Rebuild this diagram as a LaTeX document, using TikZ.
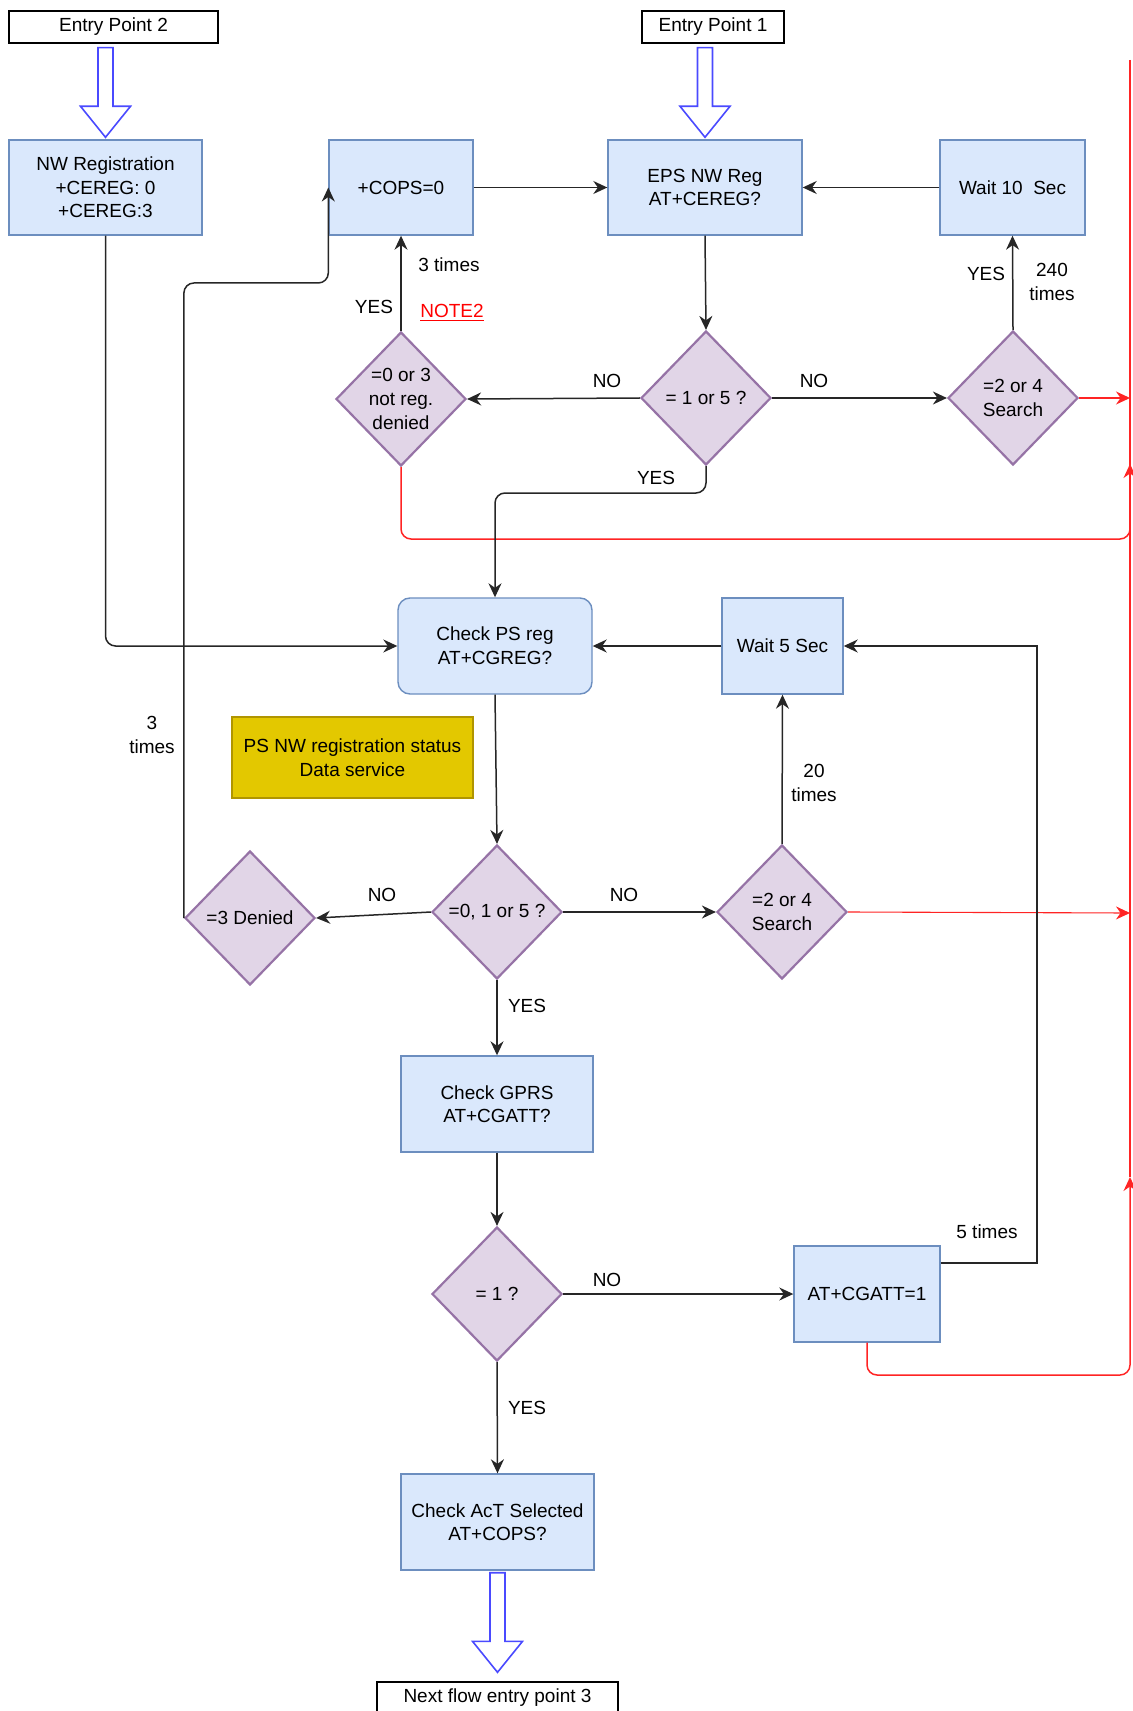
\documentclass[tikz,border=0pt]{standalone}
\usepackage{fontspec}
\setmainfont{Liberation Sans}
\usetikzlibrary{shapes.geometric,arrows.meta,calc}

\definecolor{boxfill}{HTML}{DAE8FC}
\definecolor{boxline}{HTML}{6C8EBF}
\definecolor{decfill}{HTML}{E1D5E7}
\definecolor{decline}{HTML}{9673A6}
\definecolor{notefill}{HTML}{E3C800}
\definecolor{noteline}{HTML}{B09500}
\definecolor{flowred}{HTML}{FF2424}
\definecolor{entryblue}{HTML}{4A4AFF}

% hollow block arrow from the bottom of #1 to the top of #2
% #3: gap below #1, #4: gap above #2 (pt)
\newcommand{\blockarrow}[4]{%
  \draw[hollow] let \p1=(#1.south), \p2=(#2.north) in
    (\x2-3.75pt,\y1-#3) -- (\x2-3.75pt,\y2+#4+15.5pt) -- (\x2-12.5pt,\y2+#4+15.5pt)
    -- (\x2,\y2+#4) -- (\x2+12.5pt,\y2+#4+15.5pt) -- (\x2+3.75pt,\y2+#4+15.5pt)
    -- (\x2+3.75pt,\y1-#3) -- cycle;}

\begin{document}
\begin{tikzpicture}[x=0.5pt,y=-0.5pt,
  font=\fontsize{9.5}{11.8}\selectfont,
  proc/.style={draw=boxline, fill=boxfill, line width=0.7pt, align=center,
    inner sep=0pt, minimum height=48pt},
  entrybox/.style={draw=black, fill=white, line width=0.7pt, align=center,
    inner sep=0pt, minimum height=16pt},
  decision/.style={diamond, draw=decline, fill=decfill, line width=1.1pt,
    inner sep=0pt, minimum width=65pt, minimum height=67pt},
  dtext/.style={align=center, inner sep=0pt},
  lbl/.style={align=center, inner sep=0pt},
  flow/.style={draw=black!85, line width=0.75pt,
    -{Stealth[length=7pt,width=6.5pt]}},
  plain/.style={draw=black!85, line width=0.75pt},
  redflow/.style={draw=flowred, line width=0.75pt,
    -{Stealth[length=7pt,width=6.5pt]}},
  redline/.style={draw=flowred, line width=0.75pt},
  hollow/.style={draw=entryblue, fill=white, line width=0.8pt, line join=miter}]

\useasboundingbox (0,0) rectangle (1132,1711);

% ---- entry points ----
\node[entrybox, minimum width=104.5pt] (ep2) at (113.5,27) {Entry Point 2};
\node[entrybox, minimum width=71pt] (ep1) at (713,27) {Entry Point 1};

% ---- EPS registration stage ----
\node[proc, minimum width=96.5pt, minimum height=47.5pt] (nwreg) at (105.5,187.5)
  {NW Registration\\+CEREG: 0\\+CEREG:3};
\node[proc, minimum width=72pt, minimum height=47.5pt] (cops0) at (401,187.5) {+COPS=0};
\node[proc, minimum width=97pt, minimum height=47.5pt] (epsreg) at (705,187.5)
  {EPS NW Reg\\AT+CEREG?};
\node[proc, minimum width=72.5pt, minimum height=47.5pt] (wait10) at (1012.5,187.5)
  {Wait 10\ \ Sec};

\node[decision, label={[dtext]center:{=0 or 3\\not reg.\\denied}}] (q0or3) at (401,399) {};
\node[decision, label={[dtext]center:{= 1 or 5 ?}}] (q1or5) at (706,398) {};
\node[decision, label={[dtext]center:{=2 or 4\\Search}}] (q2or4a) at (1013,398) {};

% ---- PS registration stage ----
\node[proc, rounded corners=6pt, minimum width=97pt] (checkps) at (495,646)
  {Check PS reg\\AT+CGREG?};
\node[proc, minimum width=60.5pt] (wait5) at (782.5,646) {Wait 5 Sec};
\node[draw=noteline, fill=notefill, line width=0.7pt, align=center, inner sep=0pt,
  minimum width=120.5pt, minimum height=40.5pt] (note) at (352.5,757.5)
  {PS NW registration status\\Data service};

\node[decision, label={[dtext]center:{=0, 1 or 5 ?}}] (q015) at (497,912) {};
\node[decision, label={[dtext]center:{=3 Denied}}] (qdenied) at (250,918) {};
\node[decision, label={[dtext]center:{=2 or 4\\Search}}] (q2or4b) at (782,912) {};

% ---- GPRS attach stage ----
\node[proc, minimum width=96pt] (checkgprs) at (497,1104) {Check GPRS\\AT+CGATT?};
\node[decision, label={[dtext]center:{= 1 ?}}] (q1) at (497,1294) {};
\node[proc, minimum width=73pt] (cgatt1) at (867,1294) {AT+CGATT=1};
\node[proc, minimum width=96.5pt] (checkact) at (497.5,1522)
  {Check AcT Selected\\AT+COPS?};
\node[entrybox, minimum width=120.5pt] (nextep) at (497.5,1698) {Next flow entry point 3};

% ---- block arrows ----
\blockarrow{ep2}{nwreg}{2pt}{1pt}
\blockarrow{ep1}{epsreg}{2pt}{1pt}
\blockarrow{checkact}{nextep}{1pt}{4.5pt}

% ---- red exit bus on the right ----
\coordinate (bustop) at (1130,60);
\coordinate (busend) at (1130,1177);
\coordinate (busA) at (1130,539);
\coordinate (busAtip) at (1130,464);
\coordinate (busB) at (1130,398);
\coordinate (busC) at (1130,913);
\coordinate (busD) at (1130,1375);
\draw[redline] (bustop) -- (busend);
\draw[redflow, rounded corners=5pt] (q0or3.south) |- (busA) -- (busAtip);
\draw[redflow] (q2or4a.east) -- (busB);
\draw[redflow, line width=0.55pt] (q2or4b.east) -- (busC);
\draw[redflow, rounded corners=5pt] (cgatt1.south) |- (busD) -- (busend);

% ---- connectors, EPS stage ----
\draw[flow] (cops0.east) -- (epsreg.west);
\draw[flow] (wait10.west) -- (epsreg.east);
\draw[flow] (epsreg.south) -- (q1or5.north);
\draw[flow] (q1or5.west) -- (q0or3.east);
\draw[flow] (q1or5.east) -- (q2or4a.west);
\draw[flow] (q2or4a.north) -- (wait10.south);
\draw[flow] (q0or3.north) -- (cops0.south);
\draw[flow, rounded corners=5pt] (q1or5.south) -- (q1or5.south |- 0,493)
  -- (checkps.north |- 0,493) -- (checkps.north);

% ---- connectors, PS stage ----
\draw[flow, rounded corners=5pt] (nwreg.south) |- (checkps.west);
\draw[flow, rounded corners=5pt] (qdenied.west) -- (qdenied.west |- 0,283)
  -- (cops0.west |- 0,283) -- (cops0.west);
\draw[flow] (checkps.south) -- (q015.north);
\draw[flow] (q015.west) -- (qdenied.east);
\draw[flow] (q015.east) -- (q2or4b.west);
\draw[flow] (q2or4b.north) -- (wait5.south);
\draw[flow] (wait5.west) -- (checkps.east);

% ---- connectors, GPRS stage ----
\draw[flow] (q015.south) -- (checkgprs.north);
\draw[flow] (checkgprs.south) -- (q1.north);
\draw[flow] (q1.east) -- (cgatt1.west);
\draw[flow] (cgatt1.east |- 0,1263) -- (1037,1263) -- (1037,646) -- (wait5.east);
\draw[flow] (q1.south) -- (checkact.north);

% ---- edge labels ----
\node[lbl] (t3a) at (449,265) {3 times};
\node[lbl] (ya) at (374,307) {YES};
\node[lbl, text=red] (note2) at (452,313) {\underline{NOTE2}};
\node[lbl] (na) at (607,381) {NO};
\node[lbl] (nb) at (814,381) {NO};
\node[lbl] (yb) at (656,478) {YES};
\node[lbl] (yc) at (986,274) {YES};
\node[lbl] (t240) at (1052,282) {240\\times};
\node[lbl] (t3b) at (152,735) {3\\times};
\node[lbl] (nc) at (382,895) {NO};
\node[lbl] (nd) at (624,895) {NO};
\node[lbl] (t20) at (814,783) {20\\times};
\node[lbl] (yd) at (527,1006) {YES};
\node[lbl] (ne) at (607,1280) {NO};
\node[lbl] (t5) at (987,1232) {5 times};
\node[lbl] (ye) at (527,1408) {YES};
\end{tikzpicture}
\end{document}
